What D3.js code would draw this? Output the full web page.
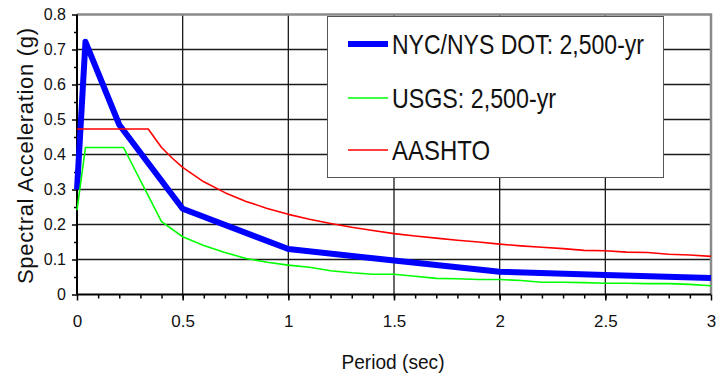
<!DOCTYPE html>
<html>
<head>
<meta charset="utf-8">
<script src="https://cdnjs.cloudflare.com/ajax/libs/d3/7.8.5/d3.min.js"></script>
<style>
  body { margin: 0; background: #fff; }
  svg { display: block; font-family: Arial, "Liberation Sans", sans-serif; }
</style>
</head>
<body>
<svg id="chart" width="716" height="379"></svg>
<script>
// tick labels
const xTicks = [0, 0.5, 1, 1.5, 2, 2.5, 3];
const yTicks = [0, 0.1, 0.2, 0.3, 0.4, 0.5, 0.6, 0.7, 0.8];

// series (period in sec, spectral acceleration in g)
const dotPeriod = [0, 0.04, 0.2, 0.5, 1.0, 1.5, 2.0, 2.5, 3.0];
const dotSa = [0.30, 0.722, 0.485, 0.245, 0.13, 0.097, 0.065, 0.056, 0.047];

const usgsPeriod = [0, 0.04, 0.22, 0.4, 0.5, 0.6, 0.7, 0.8, 0.9, 1.0, 1.1, 1.2, 1.3, 1.4, 1.5,
  1.6, 1.7, 1.8, 1.9, 2.0, 2.1, 2.2, 2.3, 2.4, 2.5, 2.6, 2.7, 2.8, 2.9, 3.0];
const usgsSa = [0.241, 0.42, 0.42, 0.208, 0.165, 0.14, 0.12, 0.103, 0.092, 0.084, 0.078, 0.068,
  0.062, 0.058, 0.058, 0.052, 0.046, 0.045, 0.043, 0.043, 0.040, 0.035, 0.035, 0.034, 0.032,
  0.032, 0.031, 0.031, 0.029, 0.025];

const aashtoPeriod = [0, 0.337, 0.4, 0.45, 0.5, 0.6, 0.7, 0.8, 0.9, 1.0, 1.1, 1.2, 1.3, 1.4, 1.5,
  1.6, 1.7, 1.8, 1.9, 2.0, 2.1, 2.2, 2.3, 2.4, 2.5, 2.6, 2.7, 2.8, 2.9, 3.0];
const aashtoSa = [0.473, 0.473, 0.42, 0.39, 0.363, 0.322, 0.291, 0.266, 0.246, 0.229, 0.215, 0.203,
  0.192, 0.183, 0.174, 0.167, 0.161, 0.155, 0.150, 0.144, 0.139, 0.135, 0.131, 0.126, 0.125,
  0.121, 0.120, 0.115, 0.113, 0.109];

const seriesNames = ['NYC/NYS DOT: 2,500-yr', 'USGS: 2,500-yr', 'AASHTO'];
const seriesColors = ['#0000ff', '#00ff00', '#ff0000'];
const seriesWidths = [6, 1.6, 1.6];

const svg = d3.select('#chart');
const margin = { top: 14.5, left: 77 };
const width = 634;
const height = 280;

const x = d3.scaleLinear().domain([0, 3]).range([0, width]);
const y = d3.scaleLinear().domain([0, 0.8]).range([height, 0]);

const g = svg.append('g')
  .attr('transform', `translate(${margin.left},${margin.top})`);

// grid
g.append('g').selectAll('line')
  .data(yTicks.slice(1, -1))
  .enter().append('line')
    .attr('x1', 0).attr('x2', width)
    .attr('y1', d => y(d)).attr('y2', d => y(d))
    .attr('stroke', '#1a1a1a').attr('stroke-width', 1.3);

g.append('g').selectAll('line')
  .data(xTicks.slice(1, -1))
  .enter().append('line')
    .attr('y1', 0).attr('y2', height)
    .attr('x1', d => x(d)).attr('x2', d => x(d))
    .attr('stroke', '#1a1a1a').attr('stroke-width', 1.3);

// gray frame top / right
g.append('path')
  .attr('d', `M0,${y(0.8)}H${x(3)}V${y(0)}`)
  .attr('fill', 'none').attr('stroke', '#8a8a8a').attr('stroke-width', 2.5);

// axes
const yAxis = d3.axisLeft(y).tickValues(yTicks).tickSize(5).tickPadding(6)
  .tickFormat(d3.format(''));
const yMinor = d3.axisLeft(y).tickValues(d3.range(0.05, 0.8, 0.1)).tickSize(3).tickFormat('');
const xAxis = d3.axisBottom(x).tickValues(xTicks).tickSize(6).tickPadding(14)
  .tickFormat(d3.format(''));
const xMinor = d3.axisBottom(x).tickValues(d3.range(0.1, 3, 0.1)).tickSize(4).tickFormat('');

function styleAxis(sel) {
  sel.select('.domain').remove();
  sel.selectAll('line').attr('stroke', '#000').attr('stroke-width', 1.5);
  sel.selectAll('text').attr('fill', '#111').style('font-size', '16px');
}

g.append('g').call(yAxis).call(styleAxis);
g.append('g').call(yMinor).call(styleAxis);
g.append('g').attr('transform', `translate(0,${height})`).call(xAxis).call(styleAxis)
  .selectAll('text').style('font-size', '17px');
g.append('g').attr('transform', `translate(0,${height})`).call(xMinor).call(styleAxis);

g.append('line').attr('x1', 0).attr('x2', 0).attr('y1', 0).attr('y2', height)
  .attr('stroke', '#000').attr('stroke-width', 2);
g.append('line').attr('x1', 0).attr('x2', width).attr('y1', height).attr('y2', height)
  .attr('stroke', '#000').attr('stroke-width', 2);

// lines
const series = [
  { period: dotPeriod, sa: dotSa },
  { period: usgsPeriod, sa: usgsSa },
  { period: aashtoPeriod, sa: aashtoSa },
];
const line = d3.line().x(d => x(d[0])).y(d => y(d[1]));

series.forEach((s, i) => {
  g.append('path')
    .datum(s.period.map((p, j) => [p, s.sa[j]]))
    .attr('fill', 'none')
    .attr('stroke', seriesColors[i])
    .attr('stroke-width', seriesWidths[i])
    .attr('stroke-linejoin', 'round')
    .attr('d', line);
});

// legend
const legend = svg.append('g');
legend.append('rect')
  .attr('x', 327.5).attr('y', 16.5).attr('width', 336).attr('height', 161)
  .attr('fill', '#fff').attr('stroke', '#555').attr('stroke-width', 1);

const legendY = [44, 98, 150];
const legendTextLen = [252, 164, 98];
seriesNames.forEach((name, i) => {
  legend.append('line')
    .attr('x1', 348).attr('x2', 388)
    .attr('y1', legendY[i]).attr('y2', legendY[i])
    .attr('stroke', seriesColors[i])
    .attr('stroke-width', seriesWidths[i]);
  legend.append('text')
    .attr('x', 392).attr('y', legendY[i] + 10)
    .attr('textLength', legendTextLen[i])
    .attr('lengthAdjust', 'spacingAndGlyphs')
    .style('font-size', '28px')
    .attr('fill', '#111')
    .text(name);
});

// titles
svg.append('text')
  .attr('x', 393).attr('y', 369)
  .attr('text-anchor', 'middle')
  .style('font-size', '20px')
  .attr('textLength', 103)
  .attr('lengthAdjust', 'spacingAndGlyphs')
  .attr('fill', '#111')
  .text('Period (sec)');

svg.append('text')
  .attr('transform', 'translate(33,156) rotate(-90)')
  .attr('text-anchor', 'middle')
  .style('font-size', '22px')
  .attr('textLength', 256)
  .attr('lengthAdjust', 'spacing')
  .attr('fill', '#111')
  .text('Spectral Acceleration (g)');
</script>
</body>
</html>
